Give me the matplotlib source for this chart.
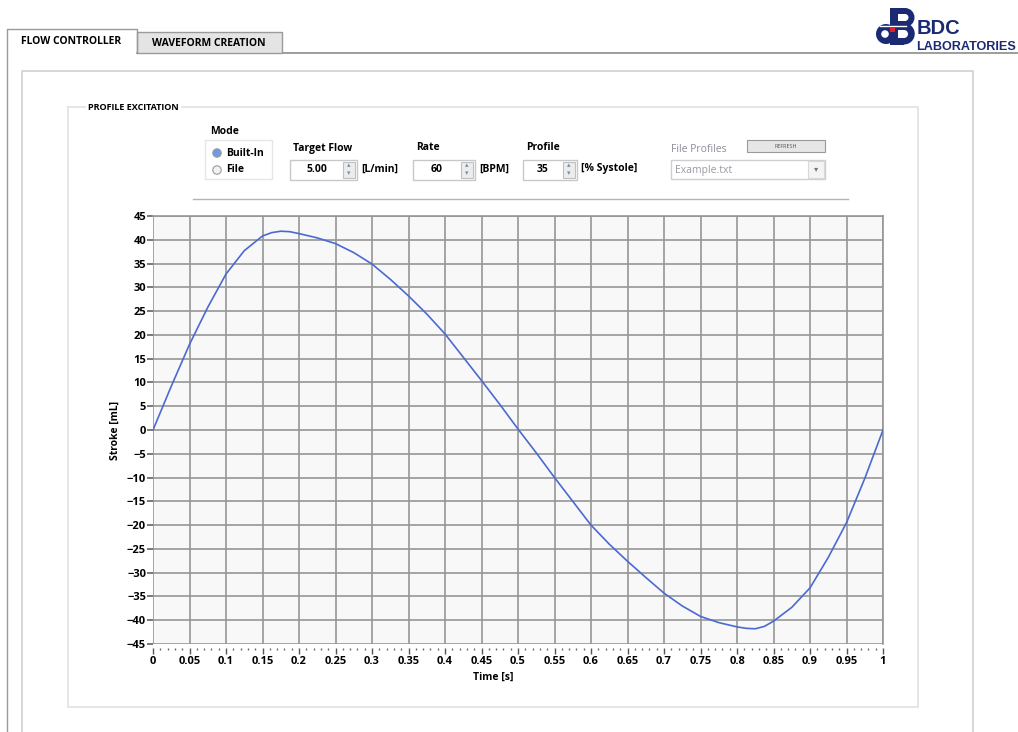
import numpy as np
import matplotlib
matplotlib.use("Agg")
import matplotlib.pyplot as plt
from matplotlib.patches import Rectangle, Circle, Polygon, Wedge
from matplotlib.ticker import MultipleLocator

# ---- data ----
time_s = [0.0, 0.025, 0.05, 0.075, 0.1, 0.125, 0.15, 0.1625, 0.175, 0.1875, 0.2, 0.225,
          0.25, 0.275, 0.3, 0.325, 0.35, 0.375, 0.4, 0.425, 0.45, 0.475, 0.5, 0.525,
          0.55, 0.575, 0.6, 0.625, 0.65, 0.675, 0.7, 0.725, 0.75, 0.775, 0.8, 0.8125,
          0.825, 0.8375, 0.85, 0.875, 0.9, 0.925, 0.95, 0.975, 1.0]
stroke_ml = [0.0, 9.2, 18.0, 25.8, 32.8, 37.7, 40.8, 41.5, 41.8, 41.7, 41.3, 40.4,
             39.2, 37.3, 34.9, 31.7, 28.2, 24.4, 20.2, 15.3, 10.4, 5.4, 0.2, -4.8,
             -10.0, -15.0, -20.0, -24.0, -27.6, -31.0, -34.3, -37.0, -39.2, -40.5, -41.4, -41.7,
             -41.8, -41.3, -40.2, -37.3, -33.2, -26.8, -19.5, -10.2, 0.0]
y_ticks = list(range(-45, 50, 5))
x_ticks = [round(0.05 * i, 2) for i in range(21)]
x_labels = ["0" if v == 0 else ("1" if v == 1 else f"{v:g}") for v in x_ticks]

W, H = 1018, 732
FONT = ["Open Sans", "DejaVu Sans"]
plt.rcParams["font.family"] = FONT
fig = plt.figure(figsize=(W / 100, H / 100), dpi=100, facecolor="white")

# ---- UI layer in pixel coordinates ----
ui = fig.add_axes([0, 0, 1, 1], zorder=0)
ui.set_xlim(0, W); ui.set_ylim(H, 0); ui.axis("off")
edge = "#a8a8a8"

def box(x, y, w, h, fc="white", ec=edge, lw=1.0, z=1):
    ui.add_patch(Rectangle((x, y), w, h, fc=fc, ec=ec, lw=lw, zorder=z))

# tabs
ui.plot([137, W], [53, 53], color="#8c8c8c", lw=1.2, zorder=2)
ui.add_patch(Polygon([[137, 53], [137, 32], [282, 32], [282, 53]], closed=True,
                     fc="#e4e4e4", ec="#9a9a9a", lw=1.0, zorder=2))
ui.plot([7, 7, 137, 137], [H, 29, 29, 53], color="#9a9a9a", lw=1.0, zorder=3)
ui.text(71, 42, "FLOW CONTROLLER", fontsize=7.5, fontweight="bold", ha="center", va="center", zorder=4)
ui.text(209, 43, "WAVEFORM CREATION", fontsize=7.5, fontweight="bold", ha="center", va="center", zorder=4)

# logo (drawn with shapes)
navy = "#1b2a73"

def lobe(x0, y0, y1, x1, fc, z):
    r = (y1 - y0) / 2
    ui.add_patch(Rectangle((x0, y0), x1 - x0, y1 - y0, fc=fc, ec="none", zorder=z))
    ui.add_patch(Wedge((x1, y0 + r), r, -90, 90, fc=fc, ec="none", zorder=z))

ui.add_patch(Circle((886, 34), 10, fc=navy, ec="none", zorder=4))
ui.add_patch(Circle((885, 34), 3.8, fc="white", ec="none", zorder=5))
lobe(890, 8, 27, 905, navy, 4)
lobe(890, 23, 44.5, 904, navy, 4)
lobe(897, 14, 21, 905, "white", 5)
lobe(897, 30, 38, 904, "white", 5)
ui.add_patch(Rectangle((890, 8), 8, 36.5, fc=navy, ec="none", zorder=6))
ui.plot([880, 906], [26, 26], color="white", lw=1.0, zorder=7)
ui.add_patch(Rectangle((890, 27), 5, 5, fc="#e0202a", ec="none", zorder=8))
ui.text(917, 34, "BDC", fontsize=14.5, fontweight="bold", color=navy, family="Liberation Sans",
        ha="left", va="baseline", zorder=4)
ui.text(916, 50, "LABORATORIES", fontsize=9.1, fontweight="bold", color=navy,
        family="Liberation Sans", ha="left", va="baseline", zorder=4)

# panels
ui.plot([22, 22, 973, 973], [H, 71, 71, H], color="#d0d0d0", lw=1.2, zorder=1)
ui.plot([68, 68, 918, 918, 68], [107, 707, 707, 107, 107], color="#e2e2e2", lw=1.2, zorder=1)
ui.text(88, 107, "PROFILE EXCITATION", fontsize=6.5, fontweight="bold", va="center",
        zorder=3, bbox=dict(fc="white", ec="none", pad=1.5))

# mode selector
ui.text(210, 131, "Mode", fontsize=7.5, fontweight="bold", va="center", zorder=3)
box(205, 140, 67, 39, ec="#e6e6e6")
for yy, lab, sel in [(153, "Built-In", True), (170, "File", False)]:
    ui.add_patch(Circle((217, yy), 4.2, fc="#6f9be0" if sel else "#f2f2f2",
                        ec="#9a9a9a", lw=0.8, zorder=3))
    ui.text(226, yy, lab, fontsize=7.5, fontweight="bold", va="center", zorder=3)

def numeric(label, x, x1, val, unit):
    ui.text(x + 3, 148, label, fontsize=7.5, fontweight="bold", va="center", zorder=3)
    box(x, 160, x1 - x, 20, ec="#c8c8c8")
    ui.text((x + x1 - 14) / 2, 170, val, fontsize=7.5, fontweight="bold", ha="center", va="center", zorder=3)
    box(x1 - 14, 162, 12, 16, fc="#ececec", ec="#c0c0c0", lw=0.8, z=2)
    ui.text(x1 - 8, 166, "\u25b4", fontsize=5, color="#7a8fb0", ha="center", va="center", zorder=3)
    ui.text(x1 - 8, 174, "\u25be", fontsize=5, color="#7a8fb0", ha="center", va="center", zorder=3)
    ui.text(x1 + 4, 169, unit, fontsize=7.5, fontweight="bold", va="center", zorder=3)

numeric("Target Flow", 290, 357, "5.00", "[L/min]")
numeric("Rate", 413, 475, "60", "[BPM]")
numeric("Profile", 523, 577, "35", "[% Systole]")

# file profiles
ui.text(671, 149, "File Profiles", fontsize=7.5, color="#8d8d9d", va="center", zorder=3)
box(747, 140, 78, 12, fc="#e6e6e6", ec="#9a9a9a", lw=0.8)
ui.text(786, 146, "REFRESH", fontsize=4, color="#555555", ha="center", va="center", zorder=3)
box(671, 160, 154, 19, ec="#cfcfcf")
box(808, 161, 16, 17, fc="#f4f4f4", ec="#d8d8d8", lw=0.8, z=2)
ui.text(816, 170, "\u25be", fontsize=6, color="#777777", ha="center", va="center", zorder=3)
ui.text(675, 170, "Example.txt", fontsize=7.5, color="#9a9aa6", va="center", zorder=3)
ui.plot([193, 848], [199, 199], color="#b4b4b4", lw=1.0, zorder=2)

# ---- waveform graph ----
ax = fig.add_axes([153 / W, (H - 644) / H, 730 / W, 428 / H], zorder=2)
ax.set_facecolor("#f8f8f8")
ax.plot(time_s, stroke_ml, color="#4a6ad2", lw=1.2, zorder=3)
ax.set_xlim(0, 1); ax.set_ylim(-45, 45)
ax.set_xticks(x_ticks); ax.set_xticklabels(x_labels)
ax.set_yticks(y_ticks)
ax.xaxis.set_minor_locator(MultipleLocator(0.01))
ax.grid(True, which="major", color="#969696", lw=1.2)
for s in ax.spines.values():
    s.set_color("#969696"); s.set_linewidth(1.2)
ax.spines["bottom"].set_visible(False)
ax.spines["left"].set_visible(False)
ax.tick_params(axis="y", length=4, width=1.1, color="#555555", pad=1, labelsize=8)
ax.tick_params(axis="x", which="major", length=4, width=1.0, color="#555555", pad=2,
               labelsize=8, direction="out")
ax.tick_params(axis="x", which="minor", length=1.5, width=1.0, color="#666666")
ax.spines["bottom"].set_position(("outward", 3))
for lab in ax.get_xticklabels() + ax.get_yticklabels():
    lab.set_fontweight("bold")
ax.set_ylabel("Stroke [mL]", fontsize=7.5, fontweight="bold", labelpad=4)
fig.text(493 / W, 1 - 677 / H, "Time [s]", fontsize=7.5, fontweight="bold", ha="center", va="center")

fig.savefig("out.png", dpi=100, facecolor="white")
